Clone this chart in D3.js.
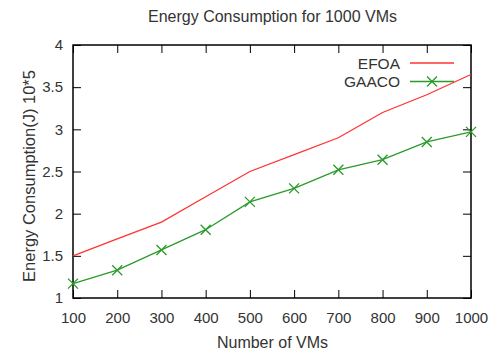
<!DOCTYPE html>
<html>
<head>
<meta charset="utf-8">
<script src="https://cdn.jsdelivr.net/npm/d3@7"></script>
<style>
  body { margin: 0; background: #fff; }
  text { font-family: "Liberation Sans", Arial, sans-serif; fill: #333; }
</style>
</head>
<body>
<svg id="chart" width="488" height="354"></svg>
<script>
const vms = [100, 200, 300, 400, 500, 600, 700, 800, 900, 1000];
const efoa = [1.5, 1.7, 1.9, 2.2, 2.5, 2.7, 2.9, 3.2, 3.41, 3.65];
const gaaco = [1.17, 1.33, 1.57, 1.81, 2.14, 2.3, 2.52, 2.64, 2.85, 2.97];
const yTicks = [1, 1.5, 2, 2.5, 3, 3.5, 4];
const seriesNames = ["EFOA", "GAACO"];
const seriesColors = ["#ff3333", "#2a9a2a"];

const svg = d3.select("#chart");
const L = 73, R = 471, T = 45, B = 298;
const x = d3.scaleLinear().domain([100, 1000]).range([L, R]);
const y = d3.scaleLinear().domain([1, 4]).range([B, T]);

const tickLen = 8;
const g = svg.append("g");
g.append("g").attr("transform", `translate(0,${B})`)
  .call(d3.axisBottom(x).tickValues(vms).tickSize(-tickLen).tickPadding(0).tickFormat(d3.format("d")))
  .call(a => a.select(".domain").remove())
  .call(a => a.selectAll("text").attr("dy", null).attr("y", 25).attr("font-size", 15)
    .style("font-family", "Liberation Sans, Arial, sans-serif").attr("fill", "#333"));
g.append("g").attr("transform", `translate(0,${T})`)
  .call(d3.axisTop(x).tickValues(vms).tickSize(-tickLen).tickFormat(""))
  .call(a => a.select(".domain").remove());
g.append("g").attr("transform", `translate(${L},0)`)
  .call(d3.axisLeft(y).tickValues(yTicks).tickSize(-tickLen).tickPadding(0).tickFormat(d => d))
  .call(a => a.select(".domain").remove())
  .call(a => a.selectAll("text").attr("x", -10).attr("font-size", 15)
    .style("font-family", "Liberation Sans, Arial, sans-serif").attr("fill", "#333"));
g.append("g").attr("transform", `translate(${R},0)`)
  .call(d3.axisRight(y).tickValues(yTicks).tickSize(-tickLen).tickFormat(""))
  .call(a => a.select(".domain").remove());
svg.selectAll(".tick line").attr("stroke", "#000").attr("stroke-width", 1);

svg.append("rect").attr("x", L).attr("y", T).attr("width", R - L).attr("height", B - T)
  .attr("fill", "none").attr("stroke", "#000").attr("stroke-width", 1.5);

const line = d3.line().x((d, i) => x(vms[i])).y(d => y(d));
svg.append("path").datum(efoa).attr("d", line).attr("fill", "none")
  .attr("stroke", seriesColors[0]).attr("stroke-width", 1.3);
svg.append("path").datum(gaaco).attr("d", line).attr("fill", "none")
  .attr("stroke", seriesColors[1]).attr("stroke-width", 1.3);

function cross(sel, cx, cy, s, color) {
  sel.append("path").attr("d", `M${cx - s},${cy - s}L${cx + s},${cy + s}M${cx - s},${cy + s}L${cx + s},${cy - s}`)
    .attr("stroke", color).attr("stroke-width", 1.3).attr("fill", "none");
}
gaaco.forEach((v, i) => cross(svg, x(vms[i]), y(v), 5, seriesColors[1]));

const leg = svg.append("g");
const legY = [63, 81.5];
seriesNames.forEach((name, i) => {
  leg.append("text").attr("x", 400).attr("y", legY[i] + 5.5).attr("text-anchor", "end")
    .attr("font-size", 15.5).text(name);
  leg.append("line").attr("x1", 410).attr("x2", 454).attr("y1", legY[i]).attr("y2", legY[i])
    .attr("stroke", seriesColors[i]).attr("stroke-width", 1.3);
});
cross(leg, 432, legY[1], 5, seriesColors[1]);

svg.append("text").attr("x", 272.5).attr("y", 22).attr("text-anchor", "middle")
  .attr("font-size", 16).text("Energy Consumption for 1000 VMs");
svg.append("text").attr("x", 272.5).attr("y", 348).attr("text-anchor", "middle")
  .attr("font-size", 16).text("Number of VMs");
svg.append("text").attr("transform", `translate(35,176) rotate(-90)`).attr("text-anchor", "middle")
  .attr("font-size", 16.5).text("Energy Consumption(J) 10*5");
</script>
</body>
</html>
